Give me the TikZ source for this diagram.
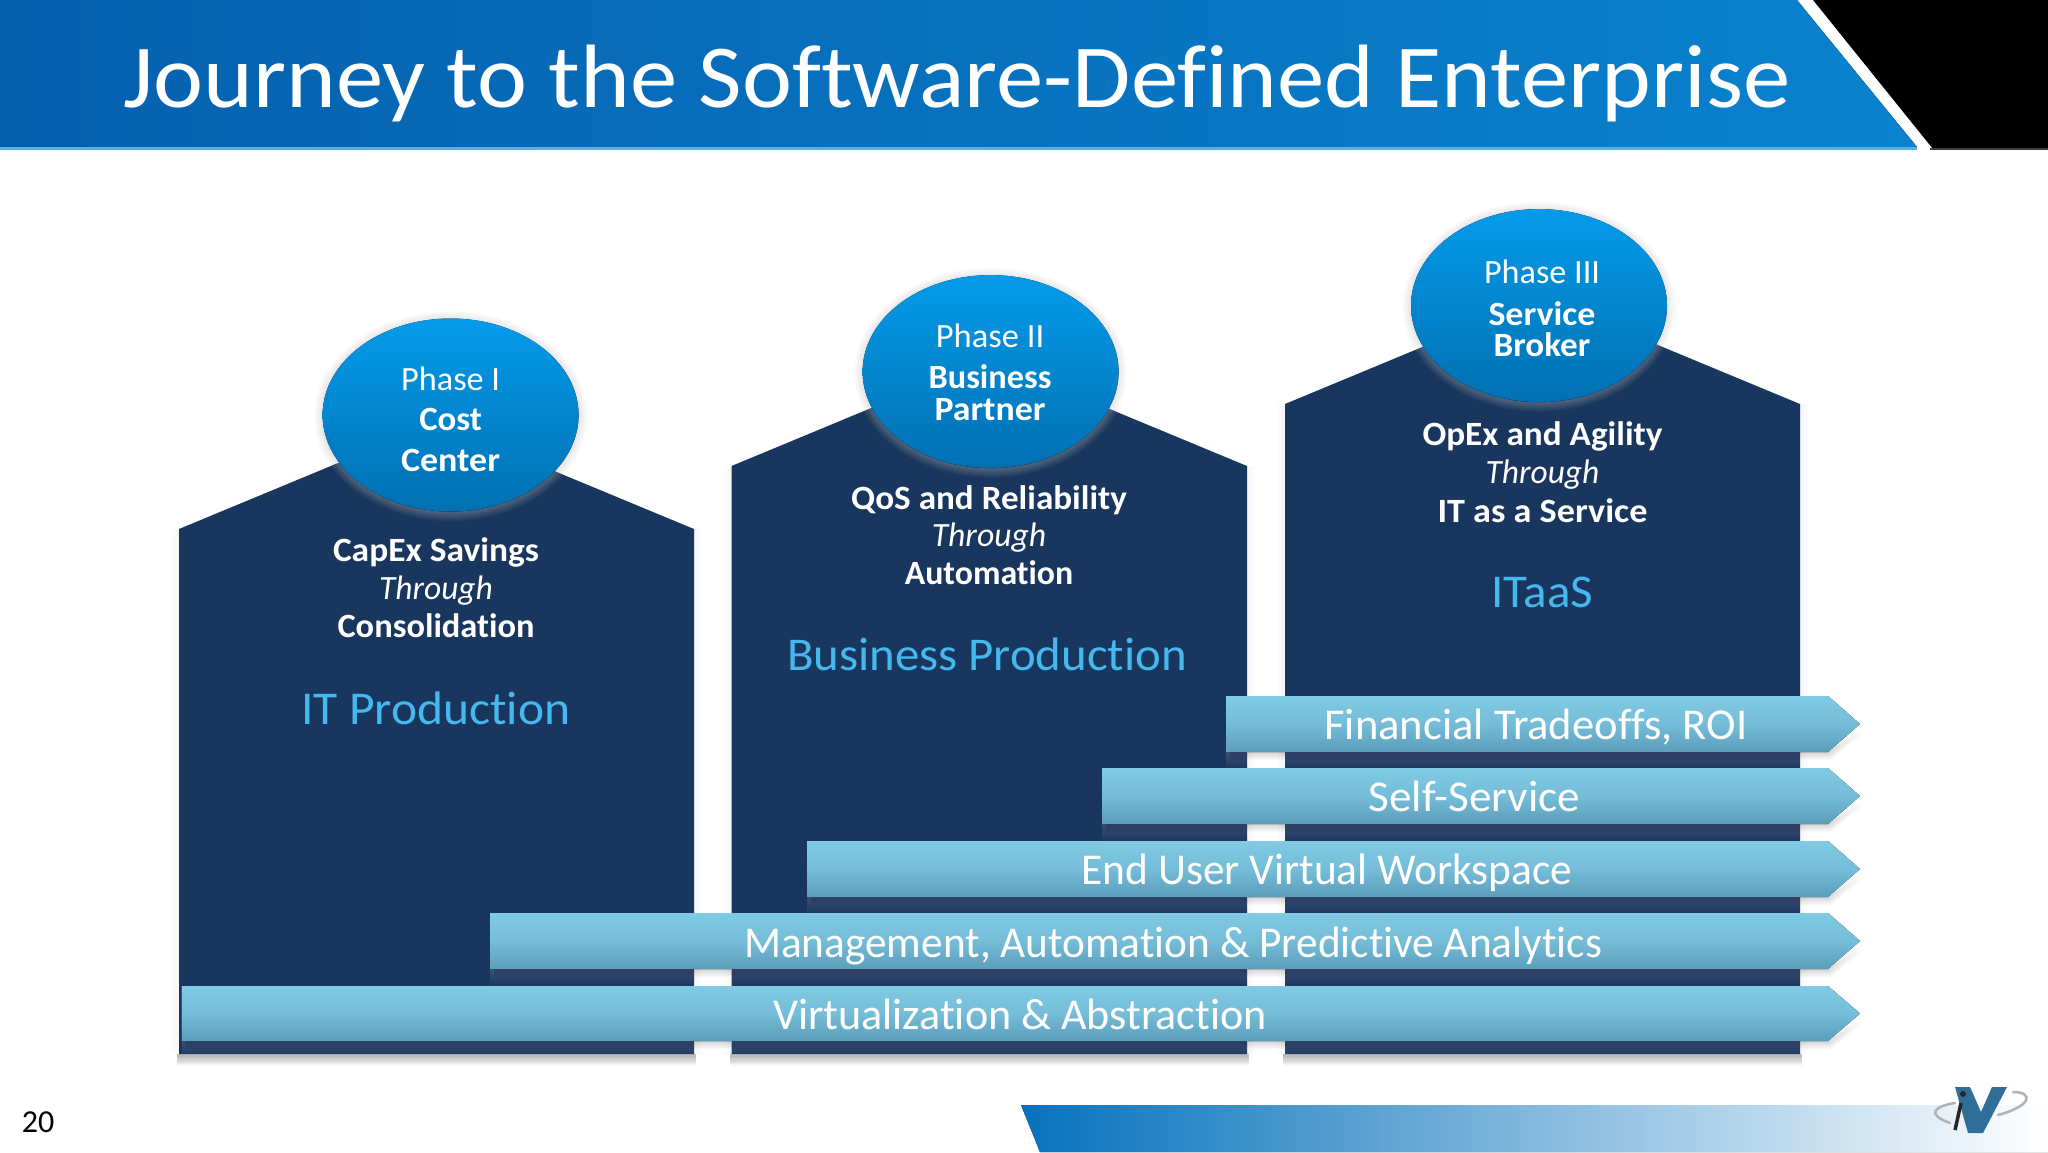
\documentclass[tikz,border=0pt]{standalone}
\usepackage{fontspec}
\usepackage{graphicx}
\setmainfont[RawFeature={-liga;-dlig;-clig}]{Carlito}
\usetikzlibrary{shapes.geometric,calc}
\definecolor{navy}{HTML}{19365F}
\definecolor{skytxt}{HTML}{45B8EE}
\definecolor{arrowtop}{HTML}{7FCAE4}
\definecolor{arrowbot}{HTML}{5C9DBA}
\definecolor{balltop}{HTML}{049BEA}
\definecolor{ballbot}{HTML}{0170B2}
\definecolor{bandl}{HTML}{0560AE}
\definecolor{bandr}{HTML}{0A82CE}
\definecolor{footl}{HTML}{0672BC}
\definecolor{footm}{HTML}{6FB0DD}
\definecolor{logoblue}{HTML}{2F6E96}
\definecolor{bandline}{HTML}{5AAEE8}
\newsavebox{\fitbox}
\newcommand{\fitx}[2]{\sbox{\fitbox}{#2}\pgfmathsetmacro{\fitf}{#1/\the\wd\fitbox}\scalebox{\fitf}[1]{\usebox{\fitbox}}}
\tikzset{
  x=1pt,y=-1pt,
  house/.style={fill=navy,draw=none},
  ball/.style={draw=none,top color=balltop,bottom color=ballbot},
  barshape/.style={draw=none,top color=arrowtop,bottom color=arrowbot,middle color=arrowtop!70!arrowbot},
  phasetxt/.style={text=white,anchor=base,font=\fontsize{34}{34}\selectfont,inner sep=0pt},
  phasebold/.style={text=white,anchor=base,font=\fontsize{34}{34}\selectfont\bfseries,inner sep=0pt},
  bodytxt/.style={text=white,anchor=base,font=\fontsize{34}{34}\selectfont\bfseries,inner sep=0pt},
  thrtxt/.style={text=white,anchor=base,font=\fontsize{34}{34}\selectfont\itshape,inner sep=0pt},
  prodtxt/.style={text=skytxt,anchor=base,font=\fontsize{47}{47}\selectfont,inner sep=0pt},
  bartxt/.style={text=white,anchor=base,font=\fontsize{44}{44}\selectfont,inner sep=0pt},
}
% x-left, x-right, shoulder y
\newcommand{\housepath}[3]{(#1,#3) -- ({(#1+#2)/2},{#3-0.415*(#2-#1)/2}) -- (#2,#3) -- (#2,1054) -- (#1,1054) -- cycle}
\newcommand{\housedraw}[3]{%
  \foreach \i in {1,...,9}{
    \fill[black,opacity=.035] (#1-2,1054) rectangle (#2+2,1054+\i*1.3);
    \fill[black,opacity=.004] (#1-\i,#3) rectangle (#2+\i,1054);
  }
  \fill[house] \housepath{#1}{#2}{#3};
}
% top y, bottom y, left x
\newcommand{\bardraw}[3]{%
  \foreach \i in {1,...,8}{
    \fill[white,opacity=.018] (#3,#2) rectangle (1828,#2+\i*2.2);
    \fill[black,opacity=.018] (#3+4,#2) -- (1828,#2) -- (1860+\i*.5,{(#1+#2)/2+\i}) -- (1828+\i*.5,#2+\i) -- (#3+4,#2+\i) -- cycle;
  }
  \fill[barshape] (#3,#1) -- (1828,#1) -- (1860,{(#1+#2)/2}) -- (1828,#2) -- (#3,#2) -- cycle;
}
% centre x, centre y, house left, right, shoulder
\newcommand{\balldraw}[5]{%
  \foreach \i in {1,...,8}{
    \fill[black,opacity=.012] (#1,#2+1) ellipse [x radius=128+\i*1.1,y radius=96.5+\i*1.1];
  }
  \begin{scope}
    \clip \housepath{#3}{#4}{#5};
    \foreach \i in {1,...,8}{
      \fill[white,opacity=.035] (#1,#2+1) ellipse [x radius=128+\i*1.1,y radius=96.5+\i*1.1];
    }
  \end{scope}
  \fill[ball] (#1,#2) ellipse [x radius=128,y radius=96.5];
}
\begin{document}
\begin{tikzpicture}
\useasboundingbox (0,0) rectangle (2048,1152);
\fill[white] (0,0) rectangle (2048,1152);
% banner
\fill[black] (1813,0) -- (2048,0) -- (2048,149) -- (1933,149) -- cycle;
\fill[left color=bandl,right color=bandr] (0,0) -- (1797,0) -- (1917,147) -- (0,147) -- cycle;
\fill[color=black!75] (1930,148) rectangle (2048,150);
\fill[bandline] (0,147) rectangle (1917,150);
\node[text=white,anchor=base,font=\fontsize{90}{90}\selectfont,inner sep=0pt] (title) at (957,107) {\fitx{1667}{Journey to the Software-Defined Enterprise}};
% houses
\housedraw{179}{694}{529}
\housedraw{731.5}{1247}{466}
\housedraw{1285}{1800}{404}
% balls
\balldraw{450.6}{415}{179}{694}{529}
\balldraw{990.6}{371.6}{731.5}{1247}{466}
\balldraw{1539}{305.6}{1285}{1800}{404}
% ball text
\node[phasetxt] (p1) at (450.6,390.5) {\fitx{99}{Phase I}};
\node[phasebold] (p1a) at (450.6,430.5) {\fitx{62.7}{Cost}};
\node[phasebold] (p1b) at (450.6,471.5) {\fitx{99}{Center}};
\node[phasetxt] (p2) at (990,347.5) {\fitx{108.4}{Phase II}};
\node[phasebold] (p2a) at (990,388) {\fitx{122.8}{Business}};
\node[phasebold] (p2b) at (990,420.5) {\fitx{111}{Partner}};
\node[phasetxt] (p3) at (1542,283) {\fitx{116}{Phase III}};
\node[phasebold] (p3a) at (1542,325) {\fitx{107}{Service}};
\node[phasebold] (p3b) at (1542,356.5) {\fitx{96.7}{Broker}};
% body text
\node[bodytxt] (b1a) at (436,561.5) {\fitx{206}{CapEx Savings}};
\node[thrtxt] (b1b) at (436,599.5) {\fitx{113.6}{Through}};
\node[bodytxt] (b1c) at (436,637.5) {\fitx{197}{Consolidation}};
\node[prodtxt] (b1d) at (436,724.5) {\fitx{269}{IT Production}};
\node[bodytxt] (b2a) at (989,509) {\fitx{275.6}{QoS and Reliability}};
\node[thrtxt] (b2b) at (989,546) {\fitx{114.5}{Through}};
\node[bodytxt] (b2c) at (989,584) {\fitx{168.5}{Automation}};
\node[prodtxt] (b2d) at (987,670.5) {\fitx{400}{Business Production}};
\node[bodytxt] (b3a) at (1542.5,445.5) {\fitx{240}{OpEx and Agility}};
\node[thrtxt] (b3b) at (1542.5,483) {\fitx{113.6}{Through}};
\node[bodytxt] (b3c) at (1542.5,522) {\fitx{210}{IT as a Service}};
\node[prodtxt] (b3d) at (1542.5,607.5) {\fitx{102}{ITaaS}};
% bars
\bardraw{986}{1041}{181.5}
\bardraw{913}{969}{490}
\bardraw{841}{897}{807}
\bardraw{768}{824}{1102}
\bardraw{696}{752}{1226}
\node[bartxt] (t5) at (1536,739) {\fitx{423}{Financial Tradeoffs, ROI}};
\node[bartxt] (t4) at (1474.5,811) {\fitx{211.6}{Self-Service}};
\node[bartxt] (t3) at (1327,884) {\fitx{491}{End User Virtual Workspace}};
\node[bartxt] (t2) at (1173,957) {\fitx{858}{Management, Automation \& Predictive Analytics}};
\node[bartxt] (t1) at (1020,1029) {\fitx{494}{Virtualization \& Abstraction}};
% footer
\fill[left color=footl,middle color=footm,right color=white] (1021,1105) -- (2048,1105) -- (2048,1152) -- (1040,1152) -- cycle;
\node[text=black,anchor=base,font=\fontsize{32}{32}\selectfont,inner sep=0pt] (pg) at (38,1132) {20};
% logo
\draw[gray!60,line width=2.5pt,line cap=round] (1955,1103) .. controls (1935,1106) and (1925,1114) .. (1950,1123);
\draw[gray!60,line width=2.5pt,line cap=round] (2013,1092) .. controls (2034,1092) and (2032,1106) .. (1998,1115);
\fill[logoblue] (1955,1087) -- (1970,1087) -- (1981,1112) -- (1992,1087) -- (2007,1087) -- (1983,1133) -- (1968,1133) -- cycle;
\draw[black!85,line width=3.5pt] (1955,1130) -- (1961,1103);
\fill[black!85] (1963,1094) circle (3);
\end{tikzpicture}
\end{document}
